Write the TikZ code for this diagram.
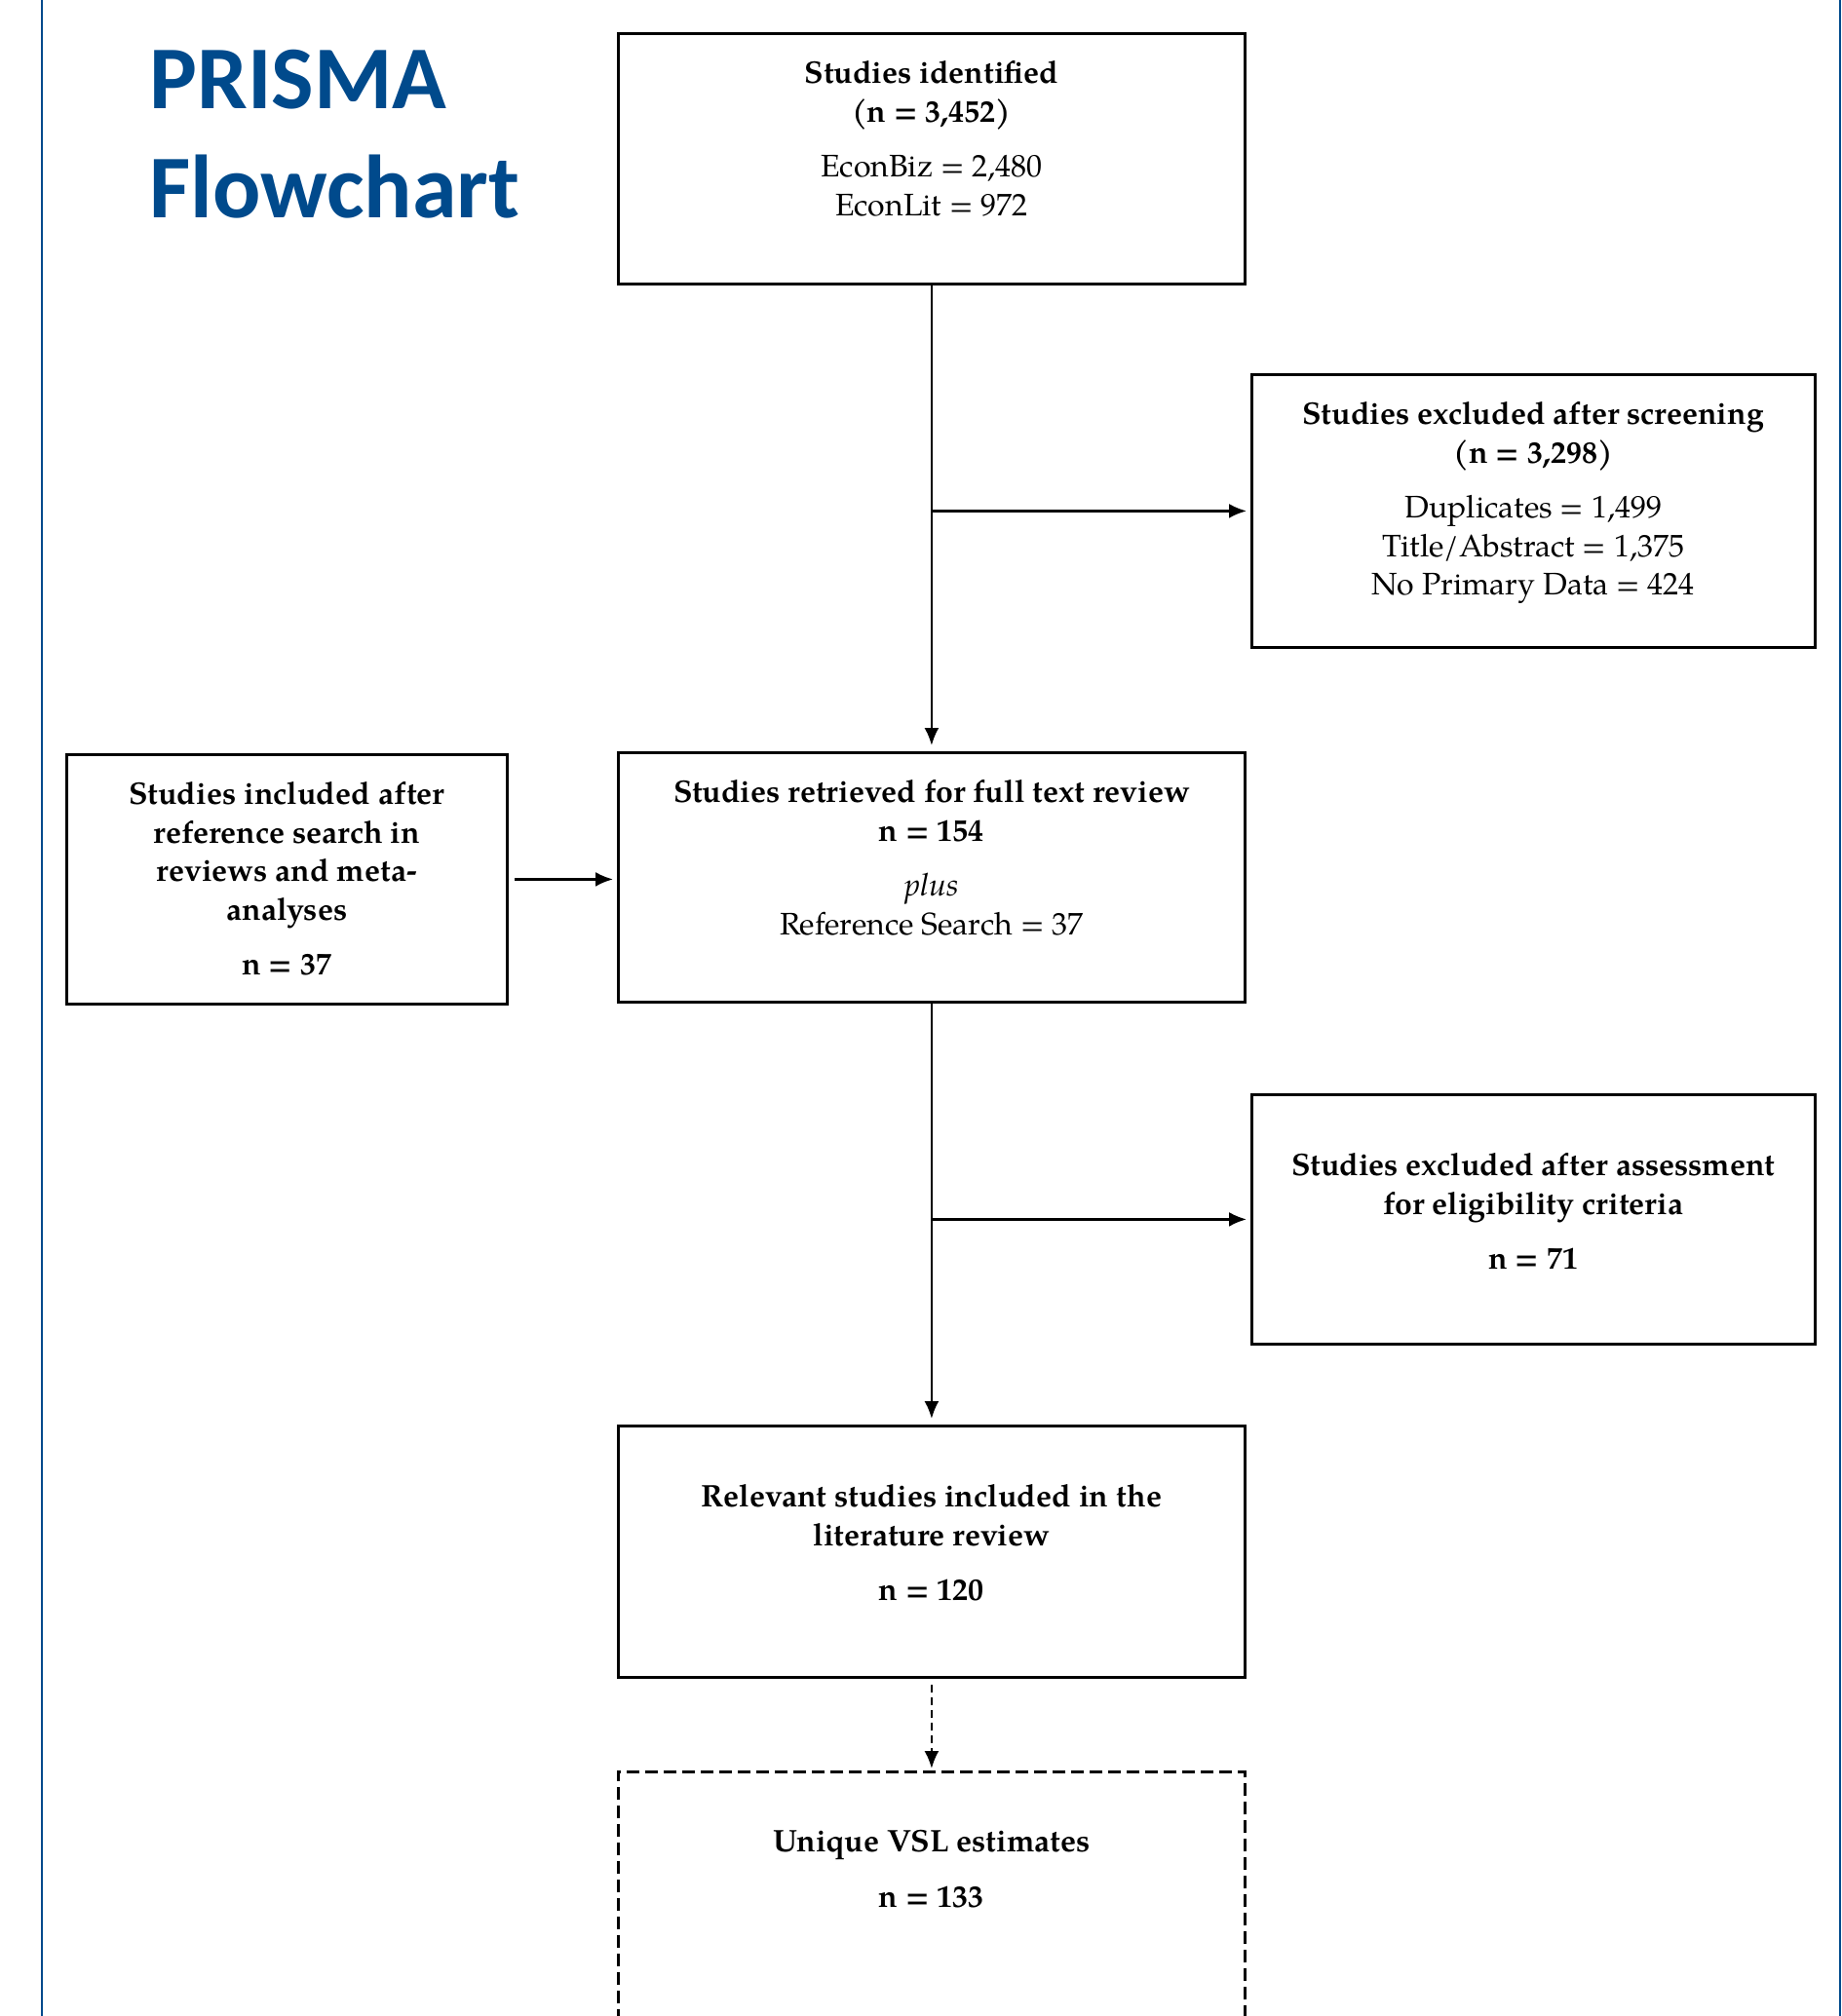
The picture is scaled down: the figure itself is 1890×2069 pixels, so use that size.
\documentclass[tikz,border=0pt]{standalone}
\usepackage{fontspec}
\setmainfont{texgyrepagella}[Extension=.otf, UprightFont=*-regular, BoldFont=*-bold, ItalicFont=*-italic, BoldItalicFont=*-bolditalic]
\newfontfamily\titlefont{Carlito}
\usepackage{tikz}
\usetikzlibrary{arrows.meta, positioning, calc}
\definecolor{PrismaBlue}{rgb}{0.0, 0.29, 0.55}

% text block of a box: height, width, top gap, body
\newcommand{\inbox}[4]{\parbox[c][#1][t]{#2}{\centering\vspace*{#3}#4}}
\newcommand{\grpsep}{\\[8.5pt]}

\begin{document}
\begin{tikzpicture}[>={Latex[length=9pt,width=7.5pt]}, x=0.5pt, y=-0.5pt,
    stagebox/.style={draw, line width=1.4pt, inner sep=0pt, anchor=north west,
        font=\fontsize{16pt}{19.8pt}\selectfont},
    flow/.style={->, line width=1.2pt}]
    \useasboundingbox (0,0) rectangle (1890,2069);

    % Frame lines
    \draw[PrismaBlue, line width=1pt] (43,0) -- (43,2069);
    \draw[PrismaBlue, line width=1pt] (1888,0) -- (1888,2069);

    % Title
    \node[anchor=base west, inner sep=0pt, PrismaBlue, font=\titlefont\bfseries\fontsize{46pt}{56pt}\selectfont] (title1) at (153,111) {PRISMA};
    \node[anchor=base west, inner sep=0pt, PrismaBlue, font=\titlefont\bfseries\fontsize{46pt}{56pt}\selectfont] (title2) at (153,223) {Flowchart};

    % Boxes
    \node[stagebox] (identified) at (633,33) {\inbox{128.5pt}{321.5pt}{14pt}{%
        \textbf{Studies identified}\\ \textbf{(n = 3,452)}\grpsep EconBiz = 2,480\\ EconLit = 972}};
    \node[stagebox] (screened) at (1283,383) {\inbox{140pt}{289pt}{14pt}{%
        \textbf{Studies excluded after screening}\\ \textbf{(n = 3,298)}\grpsep Duplicates = 1,499\\ Title/Abstract = 1,375\\ No Primary Data = 424}};
    \node[stagebox] (refsearch) at (67,773) {\inbox{128pt}{226pt}{14pt}{%
        \textbf{Studies included after}\\ \textbf{reference search in}\\ \textbf{reviews and meta-}\\ \textbf{analyses}\grpsep \textbf{n = 37}}};
    \node[stagebox] (retrieved) at (633,771) {\inbox{128pt}{321.5pt}{14pt}{%
        \textbf{Studies retrieved for full text review}\\ \textbf{n = 154}\grpsep \textit{plus}\\ Reference Search = 37}};
    \node[stagebox] (eligibility) at (1283,1122) {\inbox{128pt}{289pt}{30pt}{%
        \textbf{Studies excluded after assessment}\\ \textbf{for eligibility criteria}\grpsep \textbf{n = 71}}};
    \node[stagebox] (relevant) at (633,1462) {\inbox{129pt}{321.5pt}{30pt}{%
        \textbf{Relevant studies included in the}\\ \textbf{literature review}\grpsep \textbf{n = 120}}};
    \node[stagebox, dash pattern=on 6.5pt off 3pt] (vsl) at (633,1817) {\inbox{128pt}{321.5pt}{30pt}{%
        \textbf{Unique VSL estimates}\grpsep \textbf{n = 133}}};

    % Connectors
    \draw[flow, shorten >=3pt] (identified) -- (retrieved);
    \draw[flow, shorten >=2pt] (screened.west -| identified.south) -- (screened.west);
    \draw[flow, shorten <=3pt, shorten >=2pt] (refsearch.east) -- (refsearch.east -| retrieved.west);
    \draw[flow, shorten >=3pt] (retrieved) -- (relevant);
    \draw[flow, shorten >=2pt] (eligibility.west -| retrieved.south) -- (eligibility.west);
    \draw[flow, dash pattern=on 4pt off 2.5pt, shorten <=3pt, shorten >=1pt] (relevant) -- (vsl);
\end{tikzpicture}
\end{document}
